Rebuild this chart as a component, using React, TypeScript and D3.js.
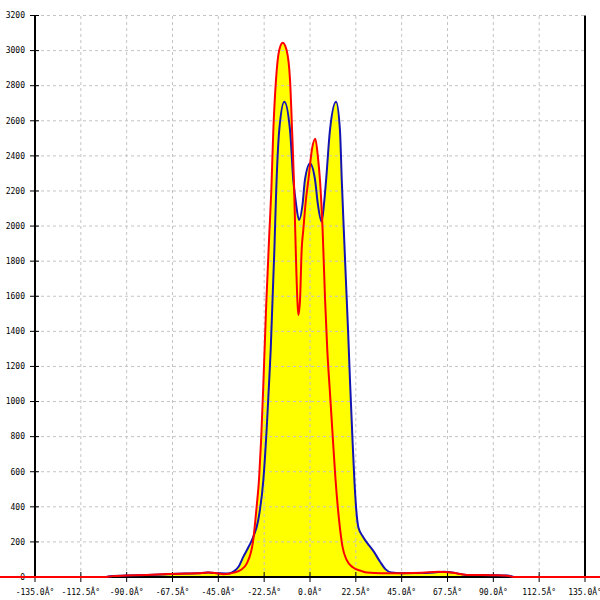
import React from "react";
import * as d3 from "d3";

const xTicks = [-135, -112.5, -90, -67.5, -45, -22.5, 0, 22.5, 45, 67.5, 90, 112.5, 135];
const yTicks = [0, 200, 400, 600, 800, 1000, 1200, 1400, 1600, 1800, 2000, 2200, 2400, 2600, 2800, 3000, 3200];

const blueAngles = [-100, -97, -90, -80, -70, -65, -60, -55, -50, -45, -40, -37, -35, -32.7, -30, -27.8, -25.4, -22.9, -21.3, -20.3, -19.3, -18.4, -17.5, -16.6, -15.1, -12.6, -9.8, -8.2, -6.9, -5.4, -3.6, -2.5, 0, 2.5, 3.8, 5.7, 6.9, 7.9, 9.8, 12.8, 14.7, 15.6, 16.6, 17.6, 18.7, 19.7, 20.8, 21.8, 22.6, 23.8, 26, 29, 31, 34.4, 37, 40, 45, 55, 63, 66, 70, 77, 90, 97, 100];
const blueValues = [0, 6, 8, 12, 15, 18, 20, 22, 25, 22, 20, 35, 60, 116, 175, 230, 325, 553, 838, 1060, 1294, 1579, 1863, 2200, 2547, 2709, 2547, 2262, 2130, 2035, 2130, 2262, 2357, 2262, 2130, 2025, 2130, 2262, 2547, 2709, 2547, 2262, 1977, 1700, 1400, 1100, 800, 550, 400, 280, 230, 180, 150, 87, 45, 25, 22, 23, 28, 30, 25, 12, 10, 8, 0];

const redAngles = [-160, -100, -97, -90, -80, -70, -60, -55, -50, -45, -42.5, -40, -37.5, -34, -31, -28, -26.2, -25, -24, -22.9, -21.5, -20, -19, -18, -16.7, -15.1, -13.4, -11.5, -9.8, -8.8, -7.9, -7.2, -6.2, -5.7, -4.9, -4.1, -3.3, -2, -0.8, 1, 2.6, 4, 4.9, 6.2, 7.4, 8.5, 9.8, 11, 12.5, 14.5, 16, 18, 21, 25, 28, 35, 45, 55, 63, 66, 70, 77, 90, 97, 100, 160];
const redValues = [0, 0, 5, 8, 12, 17, 20, 22, 25, 20, 16, 18, 25, 40, 78, 200, 400, 560, 780, 1100, 1550, 1950, 2200, 2547, 2832, 3003, 3045, 3003, 2832, 2547, 2262, 1950, 1579, 1493, 1579, 1863, 1977, 2150, 2262, 2440, 2497, 2380, 2262, 1977, 1580, 1290, 1050, 830, 560, 300, 170, 97, 55, 35, 25, 22, 22, 24, 30, 28, 24, 12, 10, 7, 0, 0];

const W = 600;
const H = 600;

export default function App() {
  const x = d3.scaleLinear().domain([-135, 135]).range([35, 585]);
  const y = d3.scaleLinear().domain([0, 3200]).range([577, 15.5]);

  const blue = blueAngles.map((a, i) => [a, blueValues[i]] as [number, number]);
  const red = redAngles.map((a, i) => [a, redValues[i]] as [number, number]);

  const line = d3
    .line<[number, number]>()
    .x((d) => x(d[0]))
    .y((d) => y(d[1]))
    .curve(d3.curveMonotoneX);
  const area = d3
    .area<[number, number]>()
    .x((d) => x(d[0]))
    .y0(y(0))
    .y1((d) => y(d[1]))
    .curve(d3.curveMonotoneX);

  const font = "'DejaVu Sans Mono', monospace";

  return (
    <svg
      width={W}
      height={H}
      style={{ position: "fixed", left: 0, top: 0, background: "#fff" }}
    >
      <rect x={0} y={0} width={W} height={H} fill="#fff" />
      <path d={area(blue) || ""} fill="#ffff00" />
      <path d={area(red) || ""} fill="#ffff00" />
      {yTicks.filter((t) => t > 0).map((t) => (
        <line
          key={"gy" + t}
          x1={x(-135)}
          x2={x(135)}
          y1={y(t)}
          y2={y(t)}
          stroke="#c4c4c4"
          strokeDasharray="3,3"
          strokeWidth={1}
        />
      ))}
      {xTicks.filter((t) => t > -135 && t < 135).map((t) => (
        <line
          key={"gx" + t}
          x1={x(t)}
          x2={x(t)}
          y1={y(0)}
          y2={y(3200)}
          stroke="#c4c4c4"
          strokeDasharray="3,3"
          strokeWidth={1}
        />
      ))}
      <line x1={x(-135)} x2={x(-135)} y1={y(0)} y2={y(3200)} stroke="#000" strokeWidth={2} />
      <line x1={x(135)} x2={x(135)} y1={y(0)} y2={y(3200)} stroke="#000" strokeWidth={2} />
      <line x1={x(-135)} x2={x(135)} y1={y(0)} y2={y(0)} stroke="#000" strokeWidth={2} />
      {yTicks.map((t) => (
        <g key={"ty" + t}>
          <line x1={30} x2={39} y1={y(t)} y2={y(t)} stroke="#000" strokeWidth={1} />
          <text
            x={25}
            y={y(t)}
            dy="0.35em"
            textAnchor="end"
            fontFamily={font}
            fontSize={8}
            fill="#000"
          >
            {t}
          </text>
        </g>
      ))}
      {xTicks.map((t) => (
        <g key={"tx" + t}>
          <line x1={x(t)} x2={x(t)} y1={y(0) - 5} y2={y(0) + 5} stroke="#000" strokeWidth={1} />
          <text
            x={x(t)}
            y={595}
            textAnchor="middle"
            fontFamily={font}
            fontSize={8}
            fill="#000"
          >
            {t.toFixed(1) + "Â°"}
          </text>
        </g>
      ))}
      <path d={line(blue) || ""} fill="none" stroke="#1414b4" strokeWidth={2} />
      <path d={line(red) || ""} fill="none" stroke="#ff0000" strokeWidth={2} />
    </svg>
  );
}
